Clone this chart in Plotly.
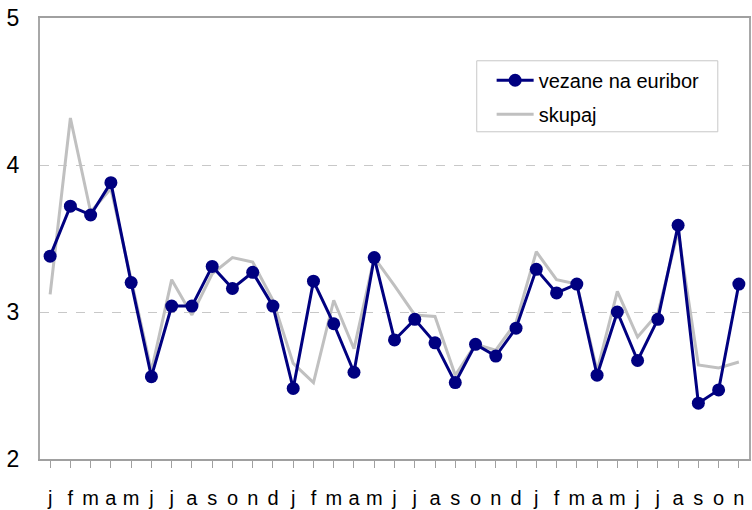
import plotly.graph_objects as go

months = ["j","f","m","a","m","j","j","a","s","o","n","d",
          "j","f","m","a","m","j","j","a","s","o","n","d",
          "j","f","m","a","m","j","j","a","s","o","n"]
vezane = [3.38,3.72,3.66,3.88,3.20,2.56,3.04,3.04,3.31,3.16,3.27,3.04,
          2.48,3.21,2.92,2.59,3.37,2.81,2.95,2.79,2.52,2.78,2.70,2.89,
          3.29,3.13,3.19,2.57,3.00,2.67,2.95,3.59,2.38,2.47,3.19]
skupaj = [3.12,4.32,3.68,3.84,3.22,2.60,3.22,2.98,3.26,3.37,3.34,3.08,
          2.65,2.52,3.08,2.75,3.37,3.18,2.98,2.97,2.57,2.78,2.74,2.93,
          3.41,3.22,3.19,2.60,3.14,2.83,2.99,3.55,2.64,2.62,2.66]

x = list(range(len(months)))
font = "Arial, Liberation Sans, sans-serif"

fig = go.Figure()
fig.add_trace(go.Scatter(x=x, y=skupaj, mode="lines", name="skupaj",
                         line=dict(color="#c0c0c0", width=3), legendgroup="b",
                         legendrank=2))
fig.add_trace(go.Scatter(x=x, y=vezane, mode="lines+markers", name="vezane na euribor",
                         line=dict(color="#000080", width=3),
                         marker=dict(color="#000080", size=13), legendgroup="a",
                         legendrank=1))

# legend frame (paper coordinates)
fig.add_shape(type="rect", xref="paper", yref="paper",
              x0=0.616, x1=0.956, y0=0.742, y1=0.903,
              line=dict(color="#c8c8c8", width=1), fillcolor="rgba(0,0,0,0)",
              layer="below")

fig.update_layout(
    width=752, height=510,
    margin=dict(l=40, r=1, t=18, b=49),
    paper_bgcolor="white", plot_bgcolor="white",
    font=dict(family=font, color="black"),
    showlegend=True,
    legend=dict(x=0.637, y=0.903, xanchor="left", yanchor="top",
                borderwidth=0, bgcolor="rgba(0,0,0,0)",
                font=dict(size=20, family=font), tracegroupgap=5,
                traceorder="grouped", itemwidth=37),
    xaxis=dict(tickmode="array", tickvals=x, ticktext=months,
               range=[-0.5, len(months) - 0.5],
               showgrid=False, zeroline=False,
               ticks="outside", tickson="boundaries", ticklen=7,
               tickcolor="#a0a0a0", tickwidth=1,
               showline=True, linecolor="#a0a0a0", linewidth=2, mirror=True,
               tickfont=dict(size=20), ticklabelstandoff=13),
    yaxis=dict(range=[2, 5], tickvals=[2, 3, 4, 5],
               showgrid=True, gridcolor="#c8c8c8", griddash="dash", gridwidth=1,
               zeroline=False, showline=True, linecolor="#a8a8a8", linewidth=2,
               mirror=True, ticks="", tickfont=dict(size=23), ticklabelstandoff=14),
)

fig.write_html("out.html", config={"displayModeBar": False},
               post_script="document.body.style.margin='0px';document.body.style.overflow='hidden';")
